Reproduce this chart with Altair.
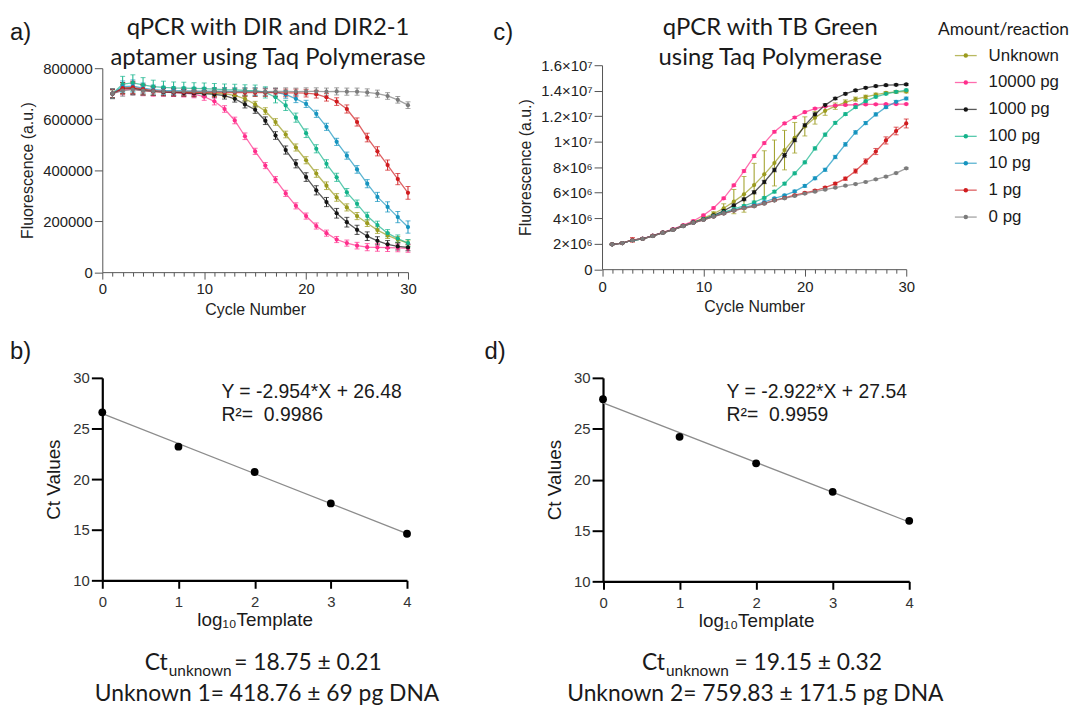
import altair as alt
import pandas as pd

# ---------------------------------------------------------------- data
SERIES = ["Unknown", "10000 pg", "1000 pg", "100 pg", "10 pg", "1 pg", "0 pg"]
COLORS = ["#9b9b1e", "#ff2e8c", "#141414", "#14b38b", "#1694bf", "#d01c1f", "#7b7b7b"]
CYCLES = list(range(1, 31))

# a) DIR / DIR2-1 aptamer, mean fluorescence (thousand a.u.)
A_UNKNOWN = [700, 718, 720, 712, 708, 706, 705, 704, 703, 702, 701, 699, 693, 680, 658,
             632, 589, 540, 489, 439, 387, 339, 293, 254, 220, 192, 165, 144, 128, 114]
A_10000 = [700, 715, 718, 712, 708, 706, 704, 702, 698, 688, 670, 640, 595, 533, 474,
           418, 363, 309, 260, 220, 181, 153, 128, 114, 104, 98, 97, 96, 95, 93]
A_1000 = [700, 722, 722, 715, 710, 707, 705, 703, 701, 700, 697, 692, 680, 658, 637,
          594, 536, 479, 425, 373, 321, 275, 231, 196, 166, 141, 123, 109, 101, 97]
A_100 = [700, 738, 742, 735, 728, 725, 723, 722, 721, 720, 718, 716, 715, 713, 712,
         705, 686, 654, 606, 545, 484, 425, 372, 313, 268, 220, 185, 153, 132, 114]
A_10 = [700, 728, 730, 722, 716, 713, 712, 711, 710, 710, 709, 709, 708, 708, 708,
        707, 705, 697, 680, 660, 621, 570, 511, 457, 403, 347, 295, 256, 216, 177]
A_1 = [700, 722, 725, 718, 712, 709, 707, 706, 705, 705, 705, 704, 704, 704, 704,
       704, 704, 703, 703, 702, 698, 686, 669, 640, 589, 528, 474, 420, 365, 311]
A_0 = [700, 712, 716, 712, 710, 709, 708, 709, 709, 708, 709, 709, 708, 709, 709,
       708, 709, 709, 708, 709, 709, 708, 709, 708, 708, 705, 700, 691, 676, 655]

# a) standard deviations (thousand a.u.)
A_UNKNOWN_SD = [15, 20, 22, 18, 15, 14, 13, 12, 12, 12, 12, 12, 12, 12, 12,
                13, 13, 13, 14, 14, 15, 15, 15, 14, 14, 13, 13, 12, 12, 12]
A_10000_SD = [18, 20, 22, 20, 18, 16, 15, 15, 14, 14, 14, 13, 13, 13, 12,
              12, 12, 12, 12, 12, 12, 12, 12, 12, 13, 14, 15, 15, 15, 15]
A_1000_SD = [18, 22, 24, 20, 17, 15, 14, 13, 13, 13, 13, 13, 13, 14, 14,
             15, 15, 16, 16, 17, 18, 18, 19, 19, 18, 17, 16, 15, 14, 13]
A_100_SD = [18, 30, 32, 28, 25, 24, 23, 23, 22, 22, 22, 22, 22, 22, 22,
            22, 22, 20, 18, 17, 16, 16, 16, 15, 15, 15, 15, 14, 14, 14]
A_10_SD = [16, 22, 24, 20, 18, 16, 15, 15, 15, 15, 15, 15, 15, 15, 15,
           15, 15, 15, 15, 14, 14, 14, 14, 14, 15, 16, 18, 20, 22, 24]
A_1_SD = [16, 22, 24, 20, 18, 16, 15, 15, 15, 15, 15, 15, 15, 15, 15,
          15, 15, 15, 15, 15, 15, 15, 15, 16, 16, 17, 18, 20, 22, 25]
A_0_SD = [20, 22, 22, 18, 16, 15, 15, 15, 14, 14, 14, 14, 14, 14, 14,
          14, 14, 14, 14, 14, 14, 14, 14, 14, 14, 14, 14, 13, 13, 13]

# c) TB Green, mean fluorescence (million a.u.)
C_UNKNOWN = [1.95, 2.05, 2.27, 2.38, 2.62, 2.87, 3.11, 3.42, 3.70, 4.00, 4.35, 4.78, 5.30, 5.87, 6.60,
             7.44, 8.33, 9.34, 10.31, 11.20, 11.88, 12.42, 12.79, 13.08, 13.34, 13.52, 13.70, 13.83, 13.91, 13.93]
C_10000 = [1.95, 2.05, 2.28, 2.39, 2.63, 2.89, 3.14, 3.45, 3.78, 4.23, 4.80, 5.56, 6.58, 7.70, 8.87,
           9.89, 10.78, 11.43, 11.90, 12.32, 12.60, 12.76, 12.84, 12.88, 12.90, 12.92, 12.93, 12.94, 12.95, 12.95]
C_1000 = [1.95, 2.05, 2.27, 2.38, 2.61, 2.86, 3.10, 3.40, 3.67, 3.92, 4.22, 4.57, 5.01, 5.48, 6.03,
          6.84, 7.78, 8.93, 10.13, 11.28, 12.14, 12.87, 13.39, 13.76, 14.02, 14.23, 14.36, 14.43, 14.46, 14.49]
C_100 = [1.95, 2.05, 2.27, 2.38, 2.61, 2.86, 3.09, 3.39, 3.66, 3.91, 4.17, 4.46, 4.73, 4.97, 5.25,
         5.59, 6.08, 6.71, 7.52, 8.38, 9.47, 10.55, 11.48, 12.16, 12.71, 13.18, 13.52, 13.76, 13.91, 14.04]
C_10 = [1.95, 2.05, 2.27, 2.38, 2.61, 2.86, 3.09, 3.38, 3.64, 3.88, 4.14, 4.39, 4.63, 4.84, 5.02,
        5.27, 5.55, 5.79, 6.10, 6.53, 7.13, 7.80, 8.80, 9.79, 10.73, 11.46, 12.14, 12.71, 13.13, 13.39]
C_1 = [1.95, 2.05, 2.30, 2.38, 2.61, 2.86, 3.09, 3.38, 3.64, 3.87, 4.13, 4.37, 4.60, 4.79, 4.95,
       5.16, 5.40, 5.59, 5.80, 5.98, 6.16, 6.40, 6.71, 7.10, 7.70, 8.45, 9.23, 10.10, 10.84, 11.43]
C_0 = [1.95, 2.05, 2.27, 2.37, 2.60, 2.85, 3.08, 3.37, 3.63, 3.86, 4.12, 4.36, 4.59, 4.78, 4.93,
       5.14, 5.38, 5.56, 5.74, 5.93, 6.08, 6.24, 6.39, 6.55, 6.68, 6.84, 7.05, 7.26, 7.54, 7.91]

# c) standard deviations (million a.u.)
C_UNKNOWN_SD = [0.03, 0.03, 0.05, 0.05, 0.05, 0.05, 0.06, 0.07, 0.08, 0.10, 0.15, 0.35, 0.95, 1.40, 1.70,
                1.85, 1.80, 1.55, 1.20, 0.75, 0.50, 0.35, 0.25, 0.20, 0.16, 0.13, 0.11, 0.10, 0.10, 0.10]
C_10000_SD = [0.03, 0.04, 0.05, 0.05, 0.05, 0.05, 0.06, 0.06, 0.07, 0.08, 0.08, 0.09, 0.09, 0.10, 0.10,
              0.09, 0.09, 0.08, 0.08, 0.07, 0.07, 0.06, 0.06, 0.06, 0.06, 0.06, 0.06, 0.06, 0.06, 0.06]
C_1000_SD = [0.03, 0.04, 0.05, 0.05, 0.05, 0.05, 0.06, 0.06, 0.07, 0.07, 0.08, 0.09, 0.10, 0.11, 0.12,
             0.13, 0.14, 0.14, 0.13, 0.12, 0.11, 0.10, 0.09, 0.08, 0.08, 0.07, 0.07, 0.07, 0.07, 0.07]
C_100_SD = [0.03, 0.04, 0.05, 0.05, 0.05, 0.05, 0.05, 0.06, 0.06, 0.06, 0.07, 0.07, 0.08, 0.08, 0.09,
            0.09, 0.10, 0.10, 0.11, 0.11, 0.12, 0.12, 0.11, 0.10, 0.10, 0.09, 0.09, 0.08, 0.08, 0.08]
C_10_SD = [0.03, 0.04, 0.05, 0.05, 0.05, 0.05, 0.05, 0.05, 0.06, 0.06, 0.06, 0.06, 0.06, 0.07, 0.07,
           0.07, 0.08, 0.08, 0.09, 0.10, 0.11, 0.12, 0.13, 0.13, 0.13, 0.12, 0.12, 0.11, 0.11, 0.11]
C_1_SD = [0.03, 0.04, 0.18, 0.06, 0.05, 0.05, 0.05, 0.05, 0.05, 0.05, 0.05, 0.05, 0.05, 0.06, 0.06,
          0.06, 0.06, 0.06, 0.07, 0.07, 0.08, 0.09, 0.10, 0.12, 0.16, 0.20, 0.24, 0.28, 0.30, 0.35]
C_0_SD = [0.03, 0.04, 0.05, 0.05, 0.05, 0.05, 0.05, 0.05, 0.05, 0.05, 0.05, 0.05, 0.05, 0.05, 0.05,
          0.05, 0.05, 0.05, 0.05, 0.05, 0.05, 0.05, 0.05, 0.05, 0.06, 0.06, 0.06, 0.06, 0.06, 0.07]

# b) / d) standard curves
LOG_TEMPLATE = [0, 1, 2, 3, 4]
B_CT = [26.6, 23.2, 20.7, 17.6, 14.6]
D_CT = [27.9, 24.2, 21.6, 18.8, 15.95]

A_Y_TICKS = [0, 200000, 400000, 600000, 800000]
C_Y_TICKS = [0, 2e6, 4e6, 6e6, 8e6, 1e7, 1.2e7, 1.4e7, 1.6e7]
CYCLE_TICKS = list(range(0, 31))
STD_X_TICKS = [0, 1, 2, 3, 4]
STD_Y_TICKS = [10, 15, 20, 25, 30]

A_MEANS = [A_UNKNOWN, A_10000, A_1000, A_100, A_10, A_1, A_0]
A_SDS = [A_UNKNOWN_SD, A_10000_SD, A_1000_SD, A_100_SD, A_10_SD, A_1_SD, A_0_SD]
C_MEANS = [C_UNKNOWN, C_10000, C_1000, C_100, C_10, C_1, C_0]
C_SDS = [C_UNKNOWN_SD, C_10000_SD, C_1000_SD, C_100_SD, C_10_SD, C_1_SD, C_0_SD]


def long_table(means, sds, unit):
    rows = []
    for name, m_list, s_list in zip(SERIES, means, sds):
        for c, m, s in zip(CYCLES, m_list, s_list):
            rows.append({"cycle": c, "series": name, "value": m * unit,
                         "lo": (m - s) * unit, "hi": (m + s) * unit})
    return pd.DataFrame(rows)


df_a = long_table(A_MEANS, A_SDS, 1000)
df_c = long_table(C_MEANS, C_SDS, 1e6)
df_b = pd.DataFrame({"logt": LOG_TEMPLATE, "ct": B_CT})
df_d = pd.DataFrame({"logt": LOG_TEMPLATE, "ct": D_CT})

# ---------------------------------------------------------------- layout
W, H = 1071, 703
SANS = "Liberation Sans"
HUMAN = "Lato"
INK = "#1a1a1a"

color_enc = alt.Color("series:N", scale=alt.Scale(domain=SERIES, range=COLORS), legend=None)


def curve_x_axis(y0):
    return alt.Axis(orient="bottom", offset=y0 - H, values=CYCLE_TICKS,
                    labelExpr="datum.value % 10 === 0 ? datum.label : ''",
                    tickSize={"condition": {"test": "datum.value % 10 === 0", "value": 7}, "value": 4},
                    title="Cycle Number", grid=False, domainColor="#555", tickColor="#555",
                    labelFont=SANS, labelFontSize=15, labelColor="#222", labelPadding=3,
                    labelOverlap=False, labelFlush=False, labelBound=False,
                    titleFont=SANS, titleFontSize=16, titleFontWeight="normal", titleColor="#222",
                    titlePadding=5)


def curve_y_axis(x0, values, title, **kw):
    return alt.Axis(orient="left", offset=-x0, values=values, title=title, grid=False,
                    domainColor="#555", tickColor="#555", tickSize=8,
                    labelFont=SANS, labelFontSize=15, labelColor="#222", labelPadding=2,
                    labelFlush=False, labelBound=False,
                    titleFont=SANS, titleFontSize=16, titleFontWeight="normal", titleColor="#222",
                    titlePadding=7, **kw)


def curve_panel(df, x_range, y_range, y_dom, y_axis):
    xs = alt.Scale(domain=[0, 30], range=x_range, nice=False, zero=False)
    ys = alt.Scale(domain=y_dom, range=y_range, nice=False, zero=False)
    x_axis = curve_x_axis(y_range[0])
    xenc = alt.X("cycle:Q", scale=xs, axis=x_axis)
    base = alt.Chart(df)
    line = base.mark_line(strokeWidth=1.3, opacity=0.7).encode(
        x=xenc, y=alt.Y("value:Q", scale=ys, axis=y_axis), color=color_enc)
    err = base.mark_errorbar(ticks={"size": 5}).encode(
        x=xenc, y=alt.Y("lo:Q", scale=ys, axis=y_axis), y2="hi:Q", color=color_enc)
    pts = base.mark_circle(size=18, opacity=1).encode(
        x=xenc, y=alt.Y("value:Q", scale=ys, axis=y_axis), color=color_enc)
    return alt.layer(line, err, pts)


A_X = [95, 403]
A_Y = [263.5, 58]
C_X = [598.5, 905]
C_Y = [260.5, 55]

panel_a = curve_panel(df_a, A_X, A_Y, [0, 800000],
                      curve_y_axis(A_X[0], A_Y_TICKS, "Fluorescence (a.u.)", format="d"))
panel_c = curve_panel(df_c, C_X, C_Y, [0, 1.6e7],
                      curve_y_axis(C_X[0], C_Y_TICKS, "Fluorescence (a.u.)",
                                   labelExpr="datum.value == 0 ? '0' : (datum.value < 1e7 ? "
                                             "format(datum.value / 1e6, '~g') + '×10⁶' : "
                                             "format(datum.value / 1e7, '~g') + '×10⁷')"))


def std_panel(df, x_range, y_range):
    xs = alt.Scale(domain=[0, 4], range=x_range, nice=False, zero=False)
    ys = alt.Scale(domain=[10, 30], range=y_range, nice=False, zero=False)
    x_axis = alt.Axis(orient="bottom", offset=y_range[0] - H, values=STD_X_TICKS,
                      title="log₁₀Template", grid=False, domainColor="#000000", domainWidth=2.2,
                      tickColor="#000000", tickWidth=2, tickSize=8,
                      labelFont=SANS, labelFontSize=15, labelColor="#333", labelPadding=6,
                      labelFlush=False, labelBound=False,
                      titleFont=SANS, titleFontSize=19, titleFontWeight="normal", titleColor=INK,
                      titlePadding=2)
    y_axis = alt.Axis(orient="left", offset=-x_range[0], values=STD_Y_TICKS,
                      title="Ct Values", grid=False, domainColor="#000000", domainWidth=2.2,
                      tickColor="#000000", tickWidth=2, tickSize=11,
                      labelFont=SANS, labelFontSize=15, labelColor="#333", labelPadding=2,
                      labelFlush=False, labelBound=False,
                      titleFont=SANS, titleFontSize=19, titleFontWeight="normal", titleColor=INK,
                      titlePadding=9)
    xenc = alt.X("logt:Q", scale=xs, axis=x_axis)
    yenc = alt.Y("ct:Q", scale=ys, axis=y_axis)
    base = alt.Chart(df)
    fit = base.transform_regression("logt", "ct", extent=[0, 4]).mark_line(
        color="#8c8c8c", strokeWidth=1.3).encode(x=xenc, y=yenc)
    pts = base.mark_circle(size=62, color="black", opacity=1).encode(x=xenc, y=yenc)
    return alt.layer(fit, pts)


panel_b = std_panel(df_b, [95, 402], [574, 370])
panel_d = std_panel(df_d, [599.5, 908], [575, 370])

# ---------------------------------------------------------------- legend
leg_df = pd.DataFrame({"series": SERIES})
leg_y = alt.Y("series:N", scale=alt.Scale(type="point", domain=SERIES, range=[45.3, 208], padding=0),
              axis=None)
leg_line = alt.Chart(leg_df).mark_rule(strokeWidth=1.3, opacity=0.7).encode(
    x=alt.value(954), x2=alt.value(976), y=leg_y, color=color_enc)
leg_dot = alt.Chart(leg_df).mark_circle(size=20, opacity=1).encode(
    x=alt.value(965), y=leg_y, color=color_enc)
leg_txt = alt.Chart(leg_df).mark_text(align="left", baseline="middle", font=SANS,
                                      fontSize=17, color=INK).encode(
    x=alt.value(988), y=leg_y, text="series:N")
legend = alt.layer(leg_line, leg_dot, leg_txt)


# ---------------------------------------------------------------- annotations
def note(text, x, y, size, font=HUMAN, align="left"):
    return alt.Chart(pd.DataFrame({"t": [text]})).mark_text(
        align=align, baseline="alphabetic", font=font, fontSize=size, color=INK).encode(
        x=alt.value(x), y=alt.value(y), text="t:N")


notes = [
    note("a)", 2, 30, 24, SANS),
    note("b)", 2, 351, 24, SANS),
    note("c)", 489, 30, 24, SANS),
    note("d)", 480, 351, 24, SANS),
    note("qPCR with DIR and DIR2-1", 262, 25, 24, align="center"),
    note("aptamer using Taq Polymerase", 262, 55, 24, align="center"),
    note("qPCR with TB Green", 768, 25, 24, align="center"),
    note("using Taq Polymerase", 768, 55, 24, align="center"),
    note("Amount/reaction", 1069, 25, 17.5, align="right"),
    note("Y = -2.954*X + 26.48", 215, 390, 19.5, SANS),
    note("R²=\u00a0 0.9986", 215, 413.5, 19.5, SANS),
    note("Y = -2.922*X + 27.54", 724, 390, 19.5, SANS),
    note("R²=\u00a0 0.9959", 724, 413.5, 19.5, SANS),
    note("Ct", 161, 664, 23, align="right"),
    note("unknown", 162, 670, 15.5),
    note("= 18.75 ± 0.21", 228, 664, 23),
    note("Unknown 1= 418.76 ± 69 pg DNA", 261, 696, 23, align="center"),
    note("Ct", 662, 664, 23, align="right"),
    note("unknown", 663, 670, 15.5),
    note("= 19.15 ± 0.32", 732, 664, 23),
    note("Unknown 2= 759.83 ± 171.5 pg DNA", 753, 696, 23, align="center"),
]

chart = alt.layer(panel_a, panel_c, panel_b, panel_d, legend, *notes).resolve_scale(
    x="independent", y="independent").resolve_axis(
    x="independent", y="independent").properties(
    width=W, height=H, autosize=alt.AutoSizeParams(type="none"), padding=0,
    background="white").configure_view(stroke=None)

chart.save("out.html", embed_options={"renderer": "svg", "actions": False})
